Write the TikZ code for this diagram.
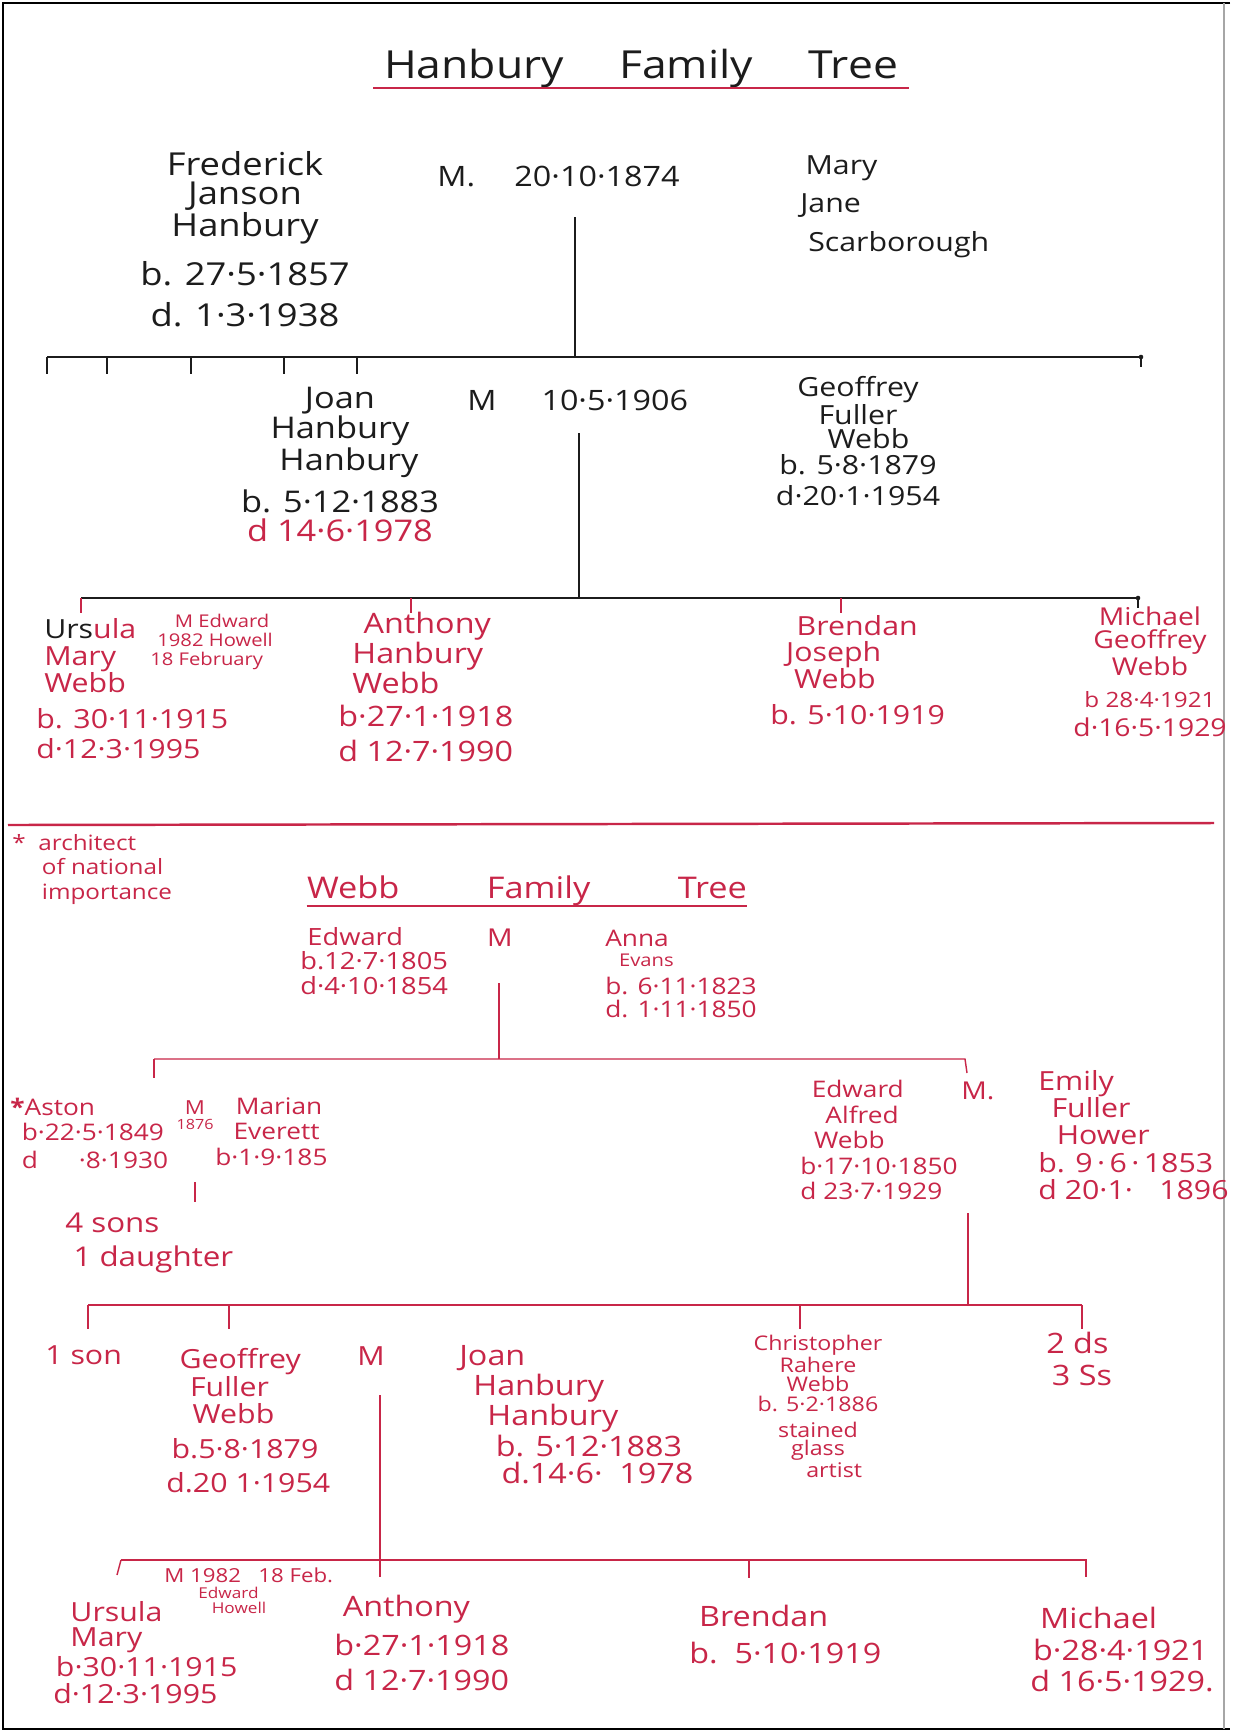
\documentclass[tikz,border=0pt]{standalone}
\usepackage{fontspec}
\setmainfont{Open Sans}[FakeStretch=1.15]
\usepackage{tikz}
\usetikzlibrary{calc}
\definecolor{inkred}{RGB}{200,38,72}
\definecolor{inkblack}{RGB}{28,28,28}
\newcommand{\inksize}[2]{\fontsize{#1}{#2}\selectfont}

\begin{document}
\begin{tikzpicture}[x=0.02cm, y=-0.02cm,
	hand/.style={inner sep=0pt, text=inkblack},
	redhand/.style={inner sep=0pt, text=inkred},
	inkline/.style={draw=inkblack, line width=0.7pt},
	redline/.style={draw=inkred, line width=0.8pt},
	frame/.style={draw=black, line width=1.2pt}]
	\useasboundingbox (0,0) rectangle (1233,1732);
	\fill[white] (0,0) rectangle (1233,1732);
	\draw[frame] (1230,3) -- (3,3) -- (3,1729) -- (1230,1729);
	\draw[black!35, line width=0.6pt] (1224,3) -- (1224,1729);

	% Hanbury family tree
	\node[hand, anchor=south, font=\inksize{22}{24}] (hantitle) at (641,88)
		{\makebox[10.7cm]{\hspace{6pt}Hanbury\hfill Family\hfill Tree\hspace{6pt}}};
	\draw[redline] (hantitle.south west) -- (hantitle.south east);

	\node[hand, anchor=north, align=center, font=\inksize{18}{16.5}] (frederick) at (245,151)
		{Frederick\\Janson\\Hanbury\\[9pt]b. 27·5·1857\\[7pt]d. 1·3·1938};
	\node[hand, anchor=west, font=\inksize{16}{18}] (wed1) at (437,176) {M.\hspace{1.4em}20·10·1874};
	\node[hand, anchor=north west, align=left, font=\inksize{15}{22}] (mary) at (800,155)
		{\hspace*{0.2em}Mary\\Jane\\\hspace*{0.3em}Scarborough};

	\coordinate (fm) at (575,217);
	\coordinate (bar1w) at (47,357);
	\coordinate (bar1e) at (1141,357);
	\draw[inkline] (fm) -- (fm |- bar1w);
	\draw[inkline] (bar1w) -- (bar1e) -- ++(0,10);
	\fill[inkblack] (bar1e) circle (1.3pt);
	\foreach \tx [count=\i] in {47,107,191,284,357} {
		\coordinate (kid\i) at (\tx,357);
		\draw[inkline] (kid\i) -- ++(0,17);
	}

	\node[hand, anchor=north, align=center, font=\inksize{17}{15.5}] (joan) at (340,387)
		{Joan\\Hanbury\\\hspace*{0.6em}Hanbury\\[6pt]b. 5·12·1883\\[1pt]\textcolor{inkred}{d 14·6·1978}};
	\node[hand, anchor=west, font=\inksize{16}{18}] (wed2) at (467,400) {M\hspace{1.6em}10·5·1906};
	\node[hand, anchor=north, align=center, font=\inksize{15}{13.7}] (geoffrey) at (858,376)
		{Geoffrey\\Fuller\\\hspace*{0.8em}Webb\\[1pt]b. 5·8·1879\\[4pt]d·20·1·1954};

	\coordinate (jg) at (579,433);
	\coordinate (bar2w) at (81,598);
	\coordinate (bar2e) at (1138,598);
	\draw[inkline] (jg) -- (jg |- bar2w);
	\draw[inkline] (bar2w) -- (bar2e) -- ++(0,10);
	\fill[inkblack] (bar2e) circle (1.3pt);
	\foreach \tx/\nm in {81/u,411/a,841/b} {
		\coordinate (tick\nm) at (\tx,598);
		\draw[redline] (tick\nm) -- ++(0,15);
	}

	% Children
	\node[redhand, anchor=north west, align=left, font=\inksize{15}{15.4}] (ursula) at (36,618)
		{\hspace*{0.3em}\textcolor{inkblack}{Urs}ula\\\hspace*{0.3em}Mary\\\hspace*{0.3em}Webb\\[5pt]b. 30·11·1915\\[2pt]d·12·3·1995};
	\node[redhand, anchor=north west, align=left, font=\inksize{10}{10.8}] (ursulam) at (150,614)
		{\hspace*{1.4em}M Edward\\\hspace*{0.4em}1982 Howell\\18 February};
	\node[redhand, anchor=north west, align=left, font=\inksize{16}{17}] (anthony) at (338,612)
		{\hspace*{0.9em}Anthony\\\hspace*{0.5em}Hanbury\\\hspace*{0.5em}Webb\\[2pt]b·27·1·1918\\[3pt]d 12·7·1990};
	\node[redhand, anchor=north west, align=left, font=\inksize{15}{15}] (brendan) at (770,615)
		{\hspace*{1em}Brendan\\\hspace*{0.6em}Joseph\\\hspace*{0.9em}Webb\\[6pt]b. 5·10·1919};
	\node[redhand, anchor=north, align=center, font=\inksize{14}{13.5}] (michael) at (1150,606)
		{Michael\\Geoffrey\\Webb\\[5pt]{\inksize{12}{13}b 28·4·1921}\\[3pt]d·16·5·1929};

	\coordinate (sepw) at (8,825);
	\coordinate (sepe) at (1214,823);
	\draw[redline, line width=1.4pt] (sepw) -- (sepe);

	% Webb family tree
	\node[redhand, anchor=north west, align=left, font=\inksize{12}{14}] (note) at (12,834)
		{*\hspace{0.6em}architect\\\hspace*{1.4em}of national\\\hspace*{1.4em}importance};
	\node[redhand, anchor=south, font=\inksize{17}{19}] (webbtitle) at (527,906)
		{\makebox[8.8cm]{Webb\hfill Family\hfill Tree}};
	\draw[redline] (webbtitle.south west) -- (webbtitle.south east);

	\node[redhand, anchor=north west, align=left, font=\inksize{13.5}{14}] (edward) at (300,927)
		{\hspace*{0.3em}Edward\\b.12·7·1805\\d·4·10·1854};
	\node[redhand, font=\inksize{14}{14}] (wed3) at (500,938) {M};
	\node[redhand, anchor=north west, align=left, font=\inksize{13}{13}] (anna) at (605,930)
		{Anna\\[-2pt]\hspace*{0.6em}{\inksize{10}{10}Evans}\\[3pt]b. 6·11·1823\\d. 1·11·1850};

	\coordinate (ea) at (499,983);
	\coordinate (bar3w) at (154,1059);
	\coordinate (bar3e) at (965,1059);
	\draw[redline] (ea) -- (ea |- bar3w);
	\draw[redline] (bar3w) -- (bar3e) -- ++(2,14);
	\draw[redline] (bar3w) -- ++(0,19);

	\node[redhand, anchor=north west, align=left, font=\inksize{13}{14}] (aston) at (10,1098)
		{{\bfseries *}Aston\\\hspace*{0.5em}b·22·5·1849\\[2pt]\hspace*{0.5em}d\hspace{1.8em}·8·1930};
	\node[redhand, anchor=north, align=center, font=\inksize{11}{9}] (wed4) at (195,1100)
		{M\\{\inksize{8}{8}1876}};
	\node[redhand, anchor=north west, align=left, font=\inksize{13}{14.5}] (marian) at (215,1097)
		{\hspace*{0.9em}Marian\\\hspace*{0.8em}Everett\\b·1·9·185};
	\coordinate (am) at (195,1182);
	\draw[redline] (am) -- ++(0,20);
	\node[redhand, anchor=north west, align=left, font=\inksize{15.5}{19}] (issue) at (65,1213)
		{4 sons\\\hspace*{0.3em}1 daughter};

	\node[redhand, anchor=north west, align=left, font=\inksize{13}{14.5}] (edalfred) at (800,1080)
		{\hspace*{0.5em}Edward\\\hspace*{1.1em}Alfred\\\hspace*{0.6em}Webb\\b·17·10·1850\\d 23·7·1929};
	\node[redhand, anchor=west, font=\inksize{14}{14}] (wed5) at (961,1091) {M.};
	\node[redhand, anchor=north west, align=left, font=\inksize{15}{15.5}] (emily) at (1038,1070)
		{Emily\\\hspace*{0.5em}Fuller\\\hspace*{0.7em}Hower\\b. 9\,·\,6\,·\,1853\\d 20·1·\hspace{1em}1896};

	\coordinate (eae) at (968,1213);
	\coordinate (bar4w) at (88,1305);
	\coordinate (bar4e) at (1082,1305);
	\draw[redline] (eae) -- (eae |- bar4w);
	\draw[redline] (bar4w) -- (bar4e);
	\foreach \tx/\nm in {88/s,229/g,800/c,1082/d} {
		\coordinate (tick\nm) at (\tx,1305);
		\draw[redline] (tick\nm) -- ++(0,24);
	}

	\node[redhand, anchor=west, font=\inksize{15}{15}] (oneson) at (45,1355) {1 son};
	\node[redhand, anchor=north west, align=left, font=\inksize{15}{15.7}] (geoffrey2) at (166,1348)
		{\hspace*{0.5em}Geoffrey\\\hspace*{0.9em}Fuller\\\hspace*{1em}Webb\\[4pt]\hspace*{0.2em}b.5·8·1879\\[4pt]d.20 1·1954};
	\node[redhand, font=\inksize{15}{15}] (wed6) at (371,1356) {M};
	\node[redhand, anchor=north west, align=left, font=\inksize{16}{17}] (joan2) at (459,1345)
		{Joan\\\hspace*{0.5em}Hanbury\\\hspace*{1em}Hanbury\\[1pt]\hspace*{1.3em}b. 5·12·1883\\[-2pt]\hspace*{1.5em}d.14·6·\hspace{0.6em}1978};
	\node[redhand, anchor=north, align=center, font=\inksize{11.5}{10.6}] (christopher) at (818,1335)
		{Christopher\\Rahere\\Webb\\[1pt]b. 5·2·1886\\[4pt]stained\\glass\\\hspace*{1.6em}artist};
	\node[redhand, anchor=north west, align=left, font=\inksize{16}{18}] (sisters) at (1046,1332)
		{2 ds\\\hspace*{0.2em}3 Ss};

	\coordinate (gj) at (380,1395);
	\coordinate (bar5w) at (121,1560);
	\coordinate (bar5e) at (1086,1560);
	\coordinate (tickbr) at (749,1560);
	\draw[redline] (gj) -- (gj |- bar5w) -- ++(0,17);
	\draw[redline] (bar5w) -- (bar5e) -- ++(0,17);
	\draw[redline] (bar5w) -- ++(-4,15);
	\draw[redline] (tickbr) -- ++(0,18);

	\node[redhand, anchor=west, font=\inksize{11}{11}] (ursulam2) at (164,1575) {M 1982\hspace{0.9em}18 Feb.};
	\node[redhand, anchor=north west, align=left, font=\inksize{8.5}{8.5}] (husband) at (198,1587)
		{Edward\\\hspace*{0.9em}Howell};
	\node[redhand, anchor=north west, align=left, font=\inksize{15}{14.5}] (ursula2) at (53,1601)
		{\hspace*{0.65em}Ursula\\\hspace*{0.65em}Mary\\[1pt]\hspace*{0.1em}b·30·11·1915\\[1pt]d·12·3·1995};
	\node[redhand, anchor=north west, align=left, font=\inksize{16}{20}] (anthony2) at (334,1595)
		{\hspace*{0.3em}Anthony\\[2pt]b·27·1·1918\\d 12·7·1990};
	\node[redhand, anchor=north west, align=left, font=\inksize{16}{21}] (brendan2) at (689,1605)
		{\hspace*{0.35em}Brendan\\b.\hspace{0.6em}5·10·1919};
	\node[redhand, anchor=north west, align=left, font=\inksize{16}{17.8}] (michael2) at (1030,1607)
		{\hspace*{0.35em}Michael\\\hspace*{0.1em}b·28·4·1921\\d 16·5·1929.};
\end{tikzpicture}
\end{document}
